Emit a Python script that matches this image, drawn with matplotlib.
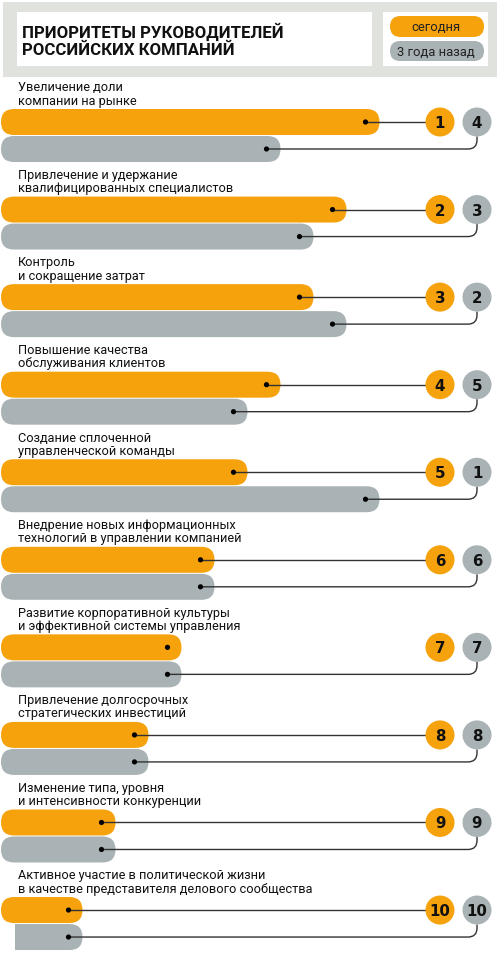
import numpy as np
import matplotlib.pyplot as plt
from matplotlib.patches import FancyBboxPatch, Circle, Rectangle, PathPatch
from matplotlib.path import Path

# данные
title = 'ПРИОРИТЕТЫ РУКОВОДИТЕЛЕЙ\nРОССИЙСКИХ КОМПАНИЙ'
legend_labels = ['сегодня', '3 года назад']
categories = [
    'Увеличение доли\nкомпании на рынке',
    'Привлечение и удержание\nквалифицированных специалистов',
    'Контроль\nи сокращение затрат',
    'Повышение качества\nобслуживания клиентов',
    'Создание сплоченной\nуправленческой команды',
    'Внедрение новых информационных\nтехнологий в управлении компанией',
    'Развитие корпоративной культуры\nи эффективной системы управления',
    'Привлечение долгосрочных\nстратегических инвестиций',
    'Изменение типа, уровня\nи интенсивности конкуренции',
    'Активное участие в политической жизни\nв качестве представителя делового сообщества',
]
rank_today = [1, 2, 3, 4, 5, 6, 7, 8, 9, 10]
rank_before = [4, 3, 2, 5, 1, 6, 7, 8, 9, 10]

ORANGE = '#F6A20C'
GREY = '#A9B2B4'
BAND = '#DFE2DD'
LINE = '#333333'

W, H = 500, 954
PT = 0.72  # px -> pt при dpi=100

plt.rcParams['font.family'] = ['Roboto', 'DejaVu Sans']

fig = plt.figure(figsize=(W / 100, H / 100), dpi=100)
ax = fig.add_axes([0, 0, 1, 1])
ax.set_xlim(0, W)
ax.set_ylim(H, 0)
ax.axis('off')


def x_end(rank):
    # шкала: место 1 -> самый длинный столбик
    return 412.5 - 33.0 * rank


def pill(x0, x1, y, h, color, z=2):
    p = FancyBboxPatch((x0, y), x1 - x0, h,
                       boxstyle=f'round,pad=0,rounding_size={h / 2}',
                       fc=color, ec='none', zorder=z)
    ax.add_patch(p)


# шапка
ax.add_patch(Rectangle((3, 3), 494, 75, fc=BAND, ec='none', zorder=0))
ax.add_patch(Rectangle((17, 13), 355, 54, fc='white', ec='none', zorder=1))
ax.add_patch(Rectangle((383, 13), 105, 54, fc='white', ec='none', zorder=1))
ax.text(22, 40.5, title, fontsize=16.8 * PT, fontweight='bold', va='center',
        ha='left', linespacing=1.12, color='#111111', zorder=3)

pill(390, 484, 17, 21, ORANGE)
pill(390, 484, 42, 20, GREY)
ax.text(436, 27.5, legend_labels[0], fontsize=13 * PT, ha='center', va='center', color='#222222', zorder=3)
ax.text(436, 52, legend_labels[1], fontsize=13 * PT, ha='center', va='center', color='#222222', zorder=3)

# строки
pitch = 87.56
bh = 26
cx_o, cx_g, cr = 440, 477, 14.5

for i, cat in enumerate(categories):
    top = 110 + i * pitch
    yo = top + bh / 2
    yg = top + 27 + bh / 2

    ax.text(18, top - 2.5, cat, fontsize=12.8 * PT, ha='left', va='bottom',
            linespacing=1.02, color='#111111', zorder=3)

    xo = x_end(rank_today[i])
    xg = x_end(rank_before[i])
    pill(1, xo, top, bh, ORANGE, z=2)
    pill(1, xg, top + 27, bh, GREY, z=2)
    if i == len(categories) - 1:
        # у последнего серого столбика в оригинале срезан левый край
        ax.add_patch(Rectangle((0, top + 26.5), 15, bh + 1, fc='white', ec='none', zorder=2.5))

    do = xo - 14
    dg = xg - 14
    # в оригинале у 7-го пункта нет линии к оранжевому кружку
    if i != 6:
        ax.plot([do, cx_o - cr], [yo, yo], color=LINE, lw=1.0, zorder=3, solid_capstyle='butt')
    rad = 9
    verts = [(dg, yg), (cx_g - rad, yg), (cx_g, yg), (cx_g, yg - rad), (cx_g, yo + cr)]
    codes = [Path.MOVETO, Path.LINETO, Path.CURVE3, Path.CURVE3, Path.LINETO]
    ax.add_patch(PathPatch(Path(verts, codes), fc='none', ec=LINE, lw=1.0, zorder=3))

    ax.add_patch(Circle((do, yo), 2.6, fc='black', ec='none', zorder=4))
    ax.add_patch(Circle((dg, yg), 2.6, fc='black', ec='none', zorder=4))

    ax.add_patch(Circle((cx_o, yo), cr, fc=ORANGE, ec='none', zorder=4))
    ax.add_patch(Circle((cx_g, yo), cr, fc=GREY, ec='none', zorder=4))
    ax.text(cx_o, yo + 0.5, str(rank_today[i]), fontsize=15 * PT, fontweight='bold',
            family=['DejaVu Sans'], ha='center', va='center', color='#111111', zorder=5)
    ax.text(cx_g, yo + 0.5, str(rank_before[i]), fontsize=15 * PT, fontweight='bold',
            family=['DejaVu Sans'], ha='center', va='center', color='#111111', zorder=5)

fig.savefig('out.png', dpi=100)
